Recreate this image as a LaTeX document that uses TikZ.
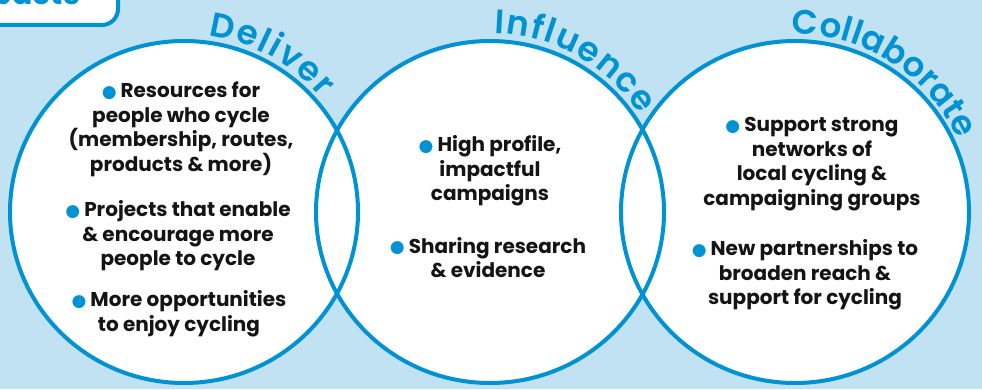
\documentclass[tikz,border=0pt]{standalone}
\usepackage{fontspec}
\setmainfont{Poppins}
\newfontfamily\semifont{Poppins SemiBold}
\newfontfamily\symfont{DejaVu Sans}
\usetikzlibrary{decorations.text}
\definecolor{bgblue}{RGB}{192,226,243}
\definecolor{cblue}{RGB}{0,146,210}
\definecolor{ink}{RGB}{20,20,20}
\newcommand\bdot{{\color{cblue}\symfont\fontsize{17}{17}\selectfont\raisebox{0.5pt}{●}}\hspace{0.2em}}
\newcommand\hfont{\semifont\fontsize{34}{34}\selectfont}
\begin{document}
\begin{tikzpicture}[x=1pt,y=1pt,
  ring/.style={draw=cblue, line width=4pt},
  itemtext/.style={align=center, text=ink, font=\bfseries\fontsize{20}{24.5}\selectfont, inner sep=0pt},
  arclabel/.style={decorate, decoration={text along path, text align={fit to path}, text color=cblue, text={|\hfont|#1}}},
  tagbox/.style={draw=cblue, line width=4pt, fill=white, rounded corners=16pt}
]
\useasboundingbox (0,0) rectangle (982,389);
\clip (0,0) rectangle (982,389);
\fill[bgblue] (0,0) rectangle (982,389);

% top-left tag
\draw[tagbox] (-30,364) rectangle (118,430);
\node[anchor=base east, text=cblue, font=\bfseries\fontsize{30}{30}\selectfont, inner sep=0pt] (tag) at (80,384) {Impacts};

% circle centres
\coordinate (cL) at (184,177);
\coordinate (cM) at (490,177);
\coordinate (cR) at (795,177);

\fill[white] (cL) ellipse [x radius=174, y radius=171];
\fill[white] (cM) ellipse [x radius=174, y radius=171];
\fill[white] (cR) ellipse [x radius=174, y radius=171];
\draw[ring] (cL) ellipse [x radius=174, y radius=171];
\draw[ring] (cM) ellipse [x radius=174, y radius=171];
\draw[ring] (cR) ellipse [x radius=174, y radius=171];

% curved headings
\path[arclabel=Deliver] ([shift={(82:178)}]cL) arc [start angle=82, end angle=40, radius=178];
\path[arclabel=Influence] ([shift={(88.5:179)}]cM) arc [start angle=88.5, end angle=33, radius=179];
\path[arclabel=Collaborate] ([shift={(91:178)}]cR) arc [start angle=91, end angle=24, radius=178];

% left circle items
\node[itemtext] (l1) at (181,259.5) {\bdot Resources for\\people who cycle\\(membership, routes,\\products \& more)};
\node[itemtext] (l2) at (178,153) {\bdot Projects that enable\\\& encourage more\\people to cycle};
\node[itemtext] (l3) at (179,75.5) {\bdot More opportunities\\to enjoy cycling};

% middle circle items
\node[itemtext] (m1) at (490,218) {\bdot High profile,\\impactful\\campaigns};
\node[itemtext] (m2) at (488,131.5) {\bdot Sharing research\\\& evidence};

% right circle items
\node[itemtext] (r1) at (812,225) {\bdot Support strong\\networks of\\local cycling \&\\campaigning groups};
\node[itemtext] (r2) at (805,114) {\bdot New partnerships to\\broaden reach \&\\support for cycling};
\end{tikzpicture}
\end{document}
